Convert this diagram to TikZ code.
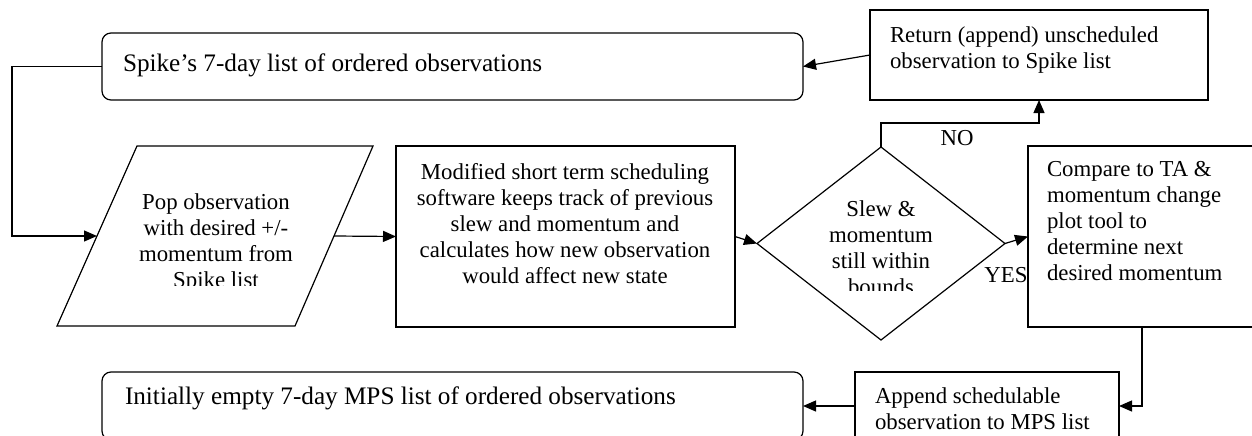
\documentclass[tikz,border=0pt]{standalone}
\usepackage{fontspec}
\setmainfont{Liberation Serif}
\usetikzlibrary{arrows.meta,shapes.geometric}
\begin{document}
\begin{tikzpicture}[x=1pt,y=-1pt,
  every node/.style={font=\fontsize{22.8}{26}\selectfont, inner sep=0pt, outer sep=0pt},
  big/.style={font=\fontsize{25.2}{29}\selectfont},
  arr/.style={line width=1.2pt,-{Triangle[length=13pt,width=11pt]}},
  ln/.style={line width=1.2pt},
  rbox/.style={draw, line width=1.2pt, rounded corners=9pt, anchor=north west},
  sbox/.style={draw, line width=1.2pt, anchor=north west},
  ltext/.style={align=left, anchor=west},
  ctext/.style={align=center}]
\useasboundingbox (0,0) rectangle (1252,436);

% boxes
\node[rbox, minimum width=701pt, minimum height=67pt] (spike) at (102,33) {};
\node[sbox, minimum width=338pt, minimum height=90pt] (ret) at (870,10) {};
\node[sbox, minimum width=339pt, minimum height=181pt] (mod) at (396,146) {};
\node[sbox, minimum width=228pt, minimum height=181pt] (cmp) at (1028,146) {};
\node[sbox, minimum width=264pt, minimum height=68pt] (app) at (855,372) {};
\node[rbox, minimum width=701pt, minimum height=68pt] (init) at (102,372) {};
\node[diamond, draw, line width=1.2pt, minimum width=248pt, minimum height=193pt] (dec) at (881,243.5) {};

% parallelogram
\draw[ln] (137,146) -- (373,146) -- (295,326) -- (57,326) -- cycle;
\coordinate (popW) at (97,236);
\coordinate (popE) at (334,236);

% texts
\node[ltext, big] (spiketext) at (123,65) {Spike’s 7-day list of ordered observations};
\node[ltext] (rettext) at (890,50.5) {Return (append) unscheduled\\observation to Spike list};
\node[ctext] (modtext) at (565,224) {Modified short term scheduling\\software keeps track of previous\\slew and momentum and\\calculates how new observation\\would affect new state};
\node[ltext] (cmptext) at (1047,221.5) {Compare to TA \&\\momentum change\\plot tool to\\determine next\\desired momentum};
\node[ltext] (apptext) at (875,409) {Append schedulable\\observation to MPS list};
\node[ltext, big] (inittext) at (125,398) {Initially empty 7-day MPS list of ordered observations};
\begin{scope}
  \clip (0,0) rectangle (700,285);
  \node[ctext] (poptext) at (216,243.5) {Pop observation\\with desired +/-\\momentum from\\Spike list};
\end{scope}
\begin{scope}
  \clip (760,0) rectangle (1000,290);
  \node[ctext] (dectext) at (881,248) {Slew \&\\momentum\\still within\\bounds};
\end{scope}

% labels
\node (no) at (957,138) {NO};
\node (yes) at (1006,275) {YES};

% connectors
\draw[arr] (spike.west) -- ++(-90,0) |- (popW);
\draw[arr] (popE) -- (mod.west);
\draw[arr] (mod.east) -- (dec.west);
\draw[arr] (dec.north) -- ++(0,-24) -| (ret.south);
\draw[arr] (ret.west) -- (spike.east);
\draw[arr] (dec.east) -- (cmp.west);
\draw[arr] (cmp.south) |- (app.east);
\draw[arr] (app.west) -- (init.east);
\end{tikzpicture}
\end{document}
